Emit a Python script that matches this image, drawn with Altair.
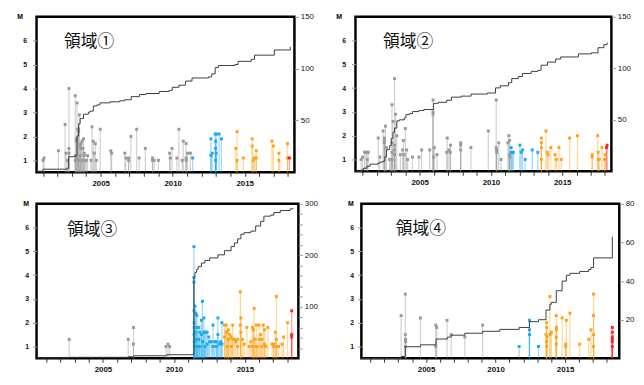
import altair as alt
import pandas as pd

# ---------------- data ----------------
P1_YEAR = [2001.0, 2001.07, 2002.07, 2002.53, 2002.6, 2002.69, 2002.8, 2002.8, 2002.8,
           2003.24, 2003.24, 2003.24, 2003.31, 2003.31, 2003.36, 2003.36, 2003.4, 2003.47,
           2003.47, 2003.47, 2003.52, 2003.58, 2003.58, 2003.63, 2003.63, 2003.7, 2003.7,
           2003.77, 2003.81, 2003.86, 2003.86, 2003.93, 2004.0, 2004.09, 2004.33, 2004.4,
           2004.49, 2004.55, 2004.63, 2004.7, 2004.97, 2005.7, 2005.76, 2006.68, 2006.75,
           2006.94, 2006.94, 2007.1, 2007.5, 2007.67, 2008.1, 2008.6, 2008.6, 2008.72,
           2009.01, 2009.79, 2009.83, 2009.95, 2010.29, 2010.43, 2010.66, 2010.73, 2010.93,
           2010.93, 2010.93, 2011.03, 2011.23, 2011.38, 2012.65, 2012.65, 2012.74, 2012.95,
           2012.98, 2012.98, 2012.98, 2013.02, 2013.02, 2013.22, 2013.38, 2014.38, 2014.47,
           2014.47, 2014.9, 2015.52, 2015.52, 2015.59, 2015.68, 2015.8, 2015.8, 2016.89,
           2016.99, 2017.37, 2017.37, 2017.97, 2017.97, 2018.1]
P1_MAG = [1.0, 1.1, 1.4, 2.5, 1.3, 1.0, 4.0, 1.5, 1.3,
          3.7, 1.2, 1.0, 1.9, 1.8, 3.4, 1.1, 2.3, 2.3,
          2.2, 1.0, 2.9, 1.6, 1.2, 1.7, 1.5, 1.8, 1.0,
          1.5, 1.9, 1.3, 1.2, 1.0, 1.0, 1.2, 1.0, 2.4,
          1.8, 1.3, 1.7, 1.0, 2.3, 1.4, 1.3, 1.3, 1.1,
          1.1, 1.0, 2.0, 2.3, 1.1, 1.5, 1.1, 1.0, 1.0,
          1.0, 1.3, 1.1, 1.5, 1.1, 2.3, 1.0, 1.8, 1.7,
          1.1, 1.0, 1.3, 1.3, 1.1, 1.9, 1.2, 1.3, 2.1,
          1.8, 1.5, 1.0, 2.1, 1.3, 2.1, 1.9, 1.5, 2.2,
          1.0, 1.1, 1.9, 1.6, 1.0, 1.1, 1.4, 1.1, 1.8,
          1.6, 1.3, 1.0, 1.7, 1.1, 1.1]
P1_CUM_YEAR = [2000.55, 2001.0, 2002.67, 2002.78, 2003.24, 2003.36, 2003.47, 2003.58, 2003.81,
               2004.15, 2004.27, 2004.49, 2004.73, 2004.95, 2005.64, 2006.32, 2006.66, 2007.12,
               2007.69, 2008.15, 2009.06, 2009.75, 2009.97, 2010.43, 2010.89, 2011.34, 2012.49,
               2012.71, 2012.95, 2013.17, 2014.32, 2014.54, 2015.45, 2015.68, 2016.82, 2017.05,
               2017.97, 2018.16]
P1_CUM = [1, 3, 4, 15, 16, 35, 47, 52, 56, 58, 59, 64, 65, 67, 68, 69, 70, 73, 75, 76, 78, 79,
          82, 84, 88, 91, 92, 95, 101, 103, 104, 107, 109, 113, 113, 118, 118, 121]

P2_YEAR = [2000.9, 2001.0, 2001.14, 2001.25, 2001.32, 2001.32, 2001.4, 2002.1, 2002.21,
           2002.44, 2002.6, 2002.53, 2002.53, 2002.53, 2002.67, 2002.9, 2002.95, 2003.06,
           2003.06, 2003.06, 2003.06, 2003.13, 2003.24, 2003.24, 2003.24, 2003.24, 2003.31,
           2003.4, 2003.65, 2003.86, 2003.81, 2003.9, 2004.0, 2004.09, 2004.16, 2004.5,
           2004.95, 2005.14, 2005.71, 2005.94, 2005.94, 2005.94, 2005.98, 2006.03, 2006.21,
           2006.9, 2006.94, 2007.05, 2007.15, 2007.17, 2007.88, 2007.88, 2007.88, 2008.6,
           2009.82, 2010.37, 2010.37, 2010.4, 2010.4, 2010.55, 2010.71, 2011.19, 2011.26,
           2011.3, 2011.3, 2011.33, 2011.42, 2011.42, 2011.53, 2011.57, 2012.03, 2012.12,
           2012.21, 2012.4, 2012.9, 2013.29, 2013.54, 2013.54, 2013.54, 2013.54, 2013.86,
           2013.95, 2014.02, 2014.2, 2014.5, 2014.59, 2014.77, 2014.93, 2015.52, 2016.07,
           2017.1, 2017.1, 2017.49, 2017.52, 2017.52, 2017.6, 2017.79, 2017.97, 2018.01,
           2018.1, 2018.15]
P2_MAG = [1.0, 1.1, 1.3, 1.3, 1.3, 1.0, 1.3, 1.9, 1.1,
          2.2, 2.4, 1.9, 1.8, 1.7, 1.5, 1.0, 1.0, 3.3,
          1.7, 1.3, 1.0, 2.6, 4.4, 1.6, 1.4, 1.2, 2.9,
          2.0, 1.2, 1.8, 1.4, 1.2, 2.3, 1.4, 1.0, 1.1,
          1.1, 1.4, 1.4, 3.5, 3.0, 2.9, 1.1, 1.5, 1.2,
          1.3, 1.9, 1.4, 1.3, 1.6, 1.7, 1.6, 1.4, 1.5,
          2.2, 3.5, 1.5, 1.4, 1.3, 1.7, 1.0, 1.7, 2.0,
          1.8, 1.2, 1.1, 1.5, 1.3, 1.3, 1.3, 1.6, 1.3,
          1.4, 1.0, 1.4, 1.3, 1.9, 1.7, 1.5, 1.0, 2.2,
          1.3, 1.2, 1.5, 1.2, 1.0, 1.5, 1.0, 1.9, 2.0,
          1.2, 1.1, 2.0, 1.3, 1.0, 1.0, 1.5, 1.0, 1.2,
          1.5, 1.6]
P2_CUM_YEAR = [2000.5, 2000.96, 2001.07, 2001.3, 2001.53, 2002.1, 2002.21, 2002.44, 2002.56,
               2002.67, 2002.9, 2003.01, 2003.13, 2003.24, 2003.4, 2003.58, 2003.93, 2004.04,
               2004.27, 2004.5, 2004.95, 2005.3, 2005.87, 2005.98, 2006.32, 2006.9, 2007.24,
               2007.92, 2008.61, 2009.75, 2010.32, 2010.66, 2011.23, 2011.46, 2011.92, 2012.21,
               2012.83, 2013.29, 2013.52, 2013.97, 2014.54, 2014.89, 2016.14, 2017.05, 2017.51,
               2017.92, 2018.15]
P2_CUM = [0, 2, 3, 5, 7, 8, 9, 10, 14, 21, 25, 32, 38, 42, 49, 50, 52, 55, 56, 58, 59, 60, 60,
          66, 67, 69, 72, 73, 75, 76, 81, 83, 86, 90, 92, 95, 97, 98, 103, 106, 109, 111, 114,
          115, 120, 123, 125]

P3_YEAR = [2002.62, 2006.78, 2007.15, 2007.15, 2009.44, 2009.58, 2009.7,
           2011.41, 2011.41, 2011.41, 2011.42, 2011.42, 2011.42, 2011.43, 2011.43, 2011.44,
           2011.48, 2011.48, 2011.55, 2011.55, 2011.62, 2011.62, 2011.67, 2011.67, 2011.76,
           2011.76, 2011.83, 2011.83, 2011.94, 2011.94, 2012.01, 2012.01, 2012.11, 2012.11,
           2012.18, 2012.18, 2012.25, 2012.34, 2012.34, 2012.45, 2012.52, 2012.64, 2012.75,
           2012.75, 2012.87, 2012.99, 2012.99, 2013.1, 2013.1, 2013.19, 2013.29, 2013.38,
           2013.38,
           2013.56, 2013.56, 2013.68, 2013.68, 2013.75, 2013.75, 2013.84, 2013.84, 2013.94,
           2014.03, 2014.03, 2014.14, 2014.14, 2014.26, 2014.35, 2014.49, 2014.49, 2014.68,
           2014.68, 2014.72, 2014.72, 2014.84, 2014.95, 2015.14, 2015.3, 2015.42, 2015.53,
           2015.53, 2015.6, 2015.65, 2015.65, 2015.72, 2015.81, 2015.81, 2015.88, 2016.0,
           2016.0, 2016.11, 2016.2, 2016.2, 2016.3, 2016.39, 2016.39, 2016.48, 2016.62,
           2016.92, 2017.04, 2017.04, 2017.15, 2017.22, 2017.22, 2017.27, 2017.38, 2017.62,
           2017.73, 2018.01, 2018.3, 2018.3, 2018.3]
P3_MAG = [1.3, 1.3, 1.8, 1.1, 1.0, 1.1, 1.0,
          5.2, 3.9, 3.7, 2.5, 2.0, 1.5, 1.2, 1.8, 1.0,
          2.7, 1.6, 2.4, 1.3, 2.3, 1.8, 1.8, 1.0, 1.8,
          1.3, 1.6, 1.0, 2.1, 1.5, 2.9, 1.2, 2.2, 1.6,
          1.6, 1.0, 1.6, 1.6, 1.1, 1.4, 1.2, 1.2, 1.9,
          1.0, 1.2, 1.2, 1.0, 2.2, 1.5, 1.1, 1.2, 2.0,
          1.1,
          1.9, 1.4, 1.9, 1.6, 1.6, 1.0, 1.7, 1.3, 1.5,
          1.4, 1.0, 1.9, 1.3, 1.3, 1.2, 1.3, 1.0, 3.3,
          1.9, 2.2, 1.6, 1.3, 1.1, 1.8, 1.0, 1.2, 1.8,
          1.0, 1.7, 2.6, 1.3, 1.3, 1.9, 1.0, 1.0, 1.9,
          1.3, 1.5, 1.3, 1.0, 1.9, 1.7, 1.1, 1.0, 1.8,
          1.1, 1.1, 1.0, 1.6, 3.1, 1.3, 1.0, 1.0, 1.1,
          1.4, 2.0, 2.5, 1.5, 1.4]
P3_CUM_YEAR = [2000.32, 2002.62, 2006.78, 2007.15, 2009.5, 2011.37, 2011.41, 2011.48, 2011.6,
               2011.71, 2011.94, 2012.18, 2012.52, 2013.1, 2013.56, 2014.03, 2014.26, 2014.49,
               2014.72, 2014.95, 2015.42, 2015.76, 2016.11, 2016.34, 2016.81, 2017.04, 2017.5,
               2018.19, 2018.38]
P3_CUM = [1, 2, 3, 5, 7, 9, 158, 167, 173, 178, 185, 190, 195, 201, 209, 217, 224, 232, 241,
          244, 247, 257, 266, 276, 278, 283, 287, 290, 292]

P4_YEAR = [2003.21, 2003.51, 2003.51, 2003.53, 2003.53, 2003.51, 2004.6, 2005.7, 2005.77,
           2005.7, 2006.51, 2006.81, 2007.79, 2009.07,
           2011.7, 2012.44, 2012.44, 2012.44, 2013.09,
           2013.63, 2013.67, 2013.67, 2013.67, 2013.67, 2013.7, 2013.91, 2013.91, 2014.02,
           2014.37, 2014.37, 2014.37, 2014.37, 2014.37, 2014.79, 2015.05, 2015.05, 2015.09,
           2015.35, 2016.05, 2016.7, 2016.86, 2017.05, 2017.05, 2017.05, 2017.05,
           2018.4, 2018.4, 2018.4, 2018.4, 2018.4, 2018.4]
P4_MAG = [2.3, 3.2, 1.5, 1.3, 1.2, 1.0, 2.2, 1.9, 1.8,
          1.0, 2.1, 1.5, 1.4, 1.9,
          1.0, 2.1, 1.7, 1.5, 1.0,
          1.5, 2.0, 1.8, 1.2, 1.0, 1.4, 3.1, 1.5, 1.6,
          2.3, 1.8, 1.7, 1.4, 1.1, 2.2, 1.1, 1.0, 2.1,
          2.4, 1.1, 1.3, 1.7, 3.2, 2.3, 1.5, 1.0,
          1.8, 1.6, 1.4, 1.3, 1.2, 1.0]
P4_CUM_YEAR = [2000.35, 2003.21, 2003.51, 2004.6, 2005.72, 2006.53, 2006.81, 2007.79, 2009.07,
               2010.3, 2011.7, 2012.44, 2013.09, 2013.63, 2013.91, 2014.02, 2014.37, 2014.79,
               2015.09, 2015.35, 2016.05, 2016.7, 2016.86, 2017.05, 2018.4]
P4_CUM = [0, 1, 6, 7, 10, 11, 12, 13, 14, 15, 16, 19, 20, 25, 28, 29, 35, 40, 43, 44, 45, 46,
          47, 52, 63]

TITLES = ["領域①", "領域②", "領域③", "領域④"]
YEAR_TICKS = list(range(2001, 2019))
M_TICKS = [1, 2, 3, 4, 5, 6]

# period boundaries (colour classes)
BLUE_FROM, ORANGE_FROM, RED_FROM = 2011.36, 2013.45, 2018.04
PERIODS = ["g", "b", "o", "r"]
COLORS = ["#9a9a9a", "#1ea9ee", "#ffa21a", "#ff2424"]

LABEL_FONT = "Liberation Sans"
M_MIN, M_MAX = 0.5, 7.0


def period(y):
    if y >= RED_FROM:
        return "r"
    if y >= ORANGE_FROM:
        return "o"
    if y >= BLUE_FROM:
        return "b"
    return "g"


def panel(years, mags, cyears, cums, title, xdom, rdom, rvals, rlabel_step,
          width, height, title_x, label_pad, text_x, text_y):
    ev = pd.DataFrame({"year": years, "M": mags})
    ev["base"] = M_MIN
    ev["period"] = [period(y) for y in years]
    cum = pd.DataFrame({"year": cyears, "count": cums})
    tdf = pd.DataFrame({"t": [title]})

    xscale = alt.Scale(domain=xdom, nice=False, zero=False)
    xaxis = alt.Axis(values=YEAR_TICKS, format="d",
                     labelExpr="datum.value % 5 == 0 ? datum.label : ''",
                     labelOverlap=False, labelFlush=False, title=None,
                     domain=False, grid=False, tickColor="#333333", tickSize=4,
                     labelPadding=3, labelFont=LABEL_FONT, labelFontSize=8,
                     labelFontWeight="bold", labelColor="#111111")
    yscale = alt.Scale(domain=[M_MIN, M_MAX], nice=False, zero=False)
    yaxis = alt.Axis(values=M_TICKS, format="d", title="M", titleAngle=0,
                     titleX=title_x, titleY=0, titleAlign="left",
                     titleBaseline="middle", titleFont=LABEL_FONT, titleFontSize=7,
                     titleFontWeight="bold", domain=False, grid=False,
                     tickColor="#9a9a9a", tickSize=4, labelPadding=label_pad,
                     labelFont=LABEL_FONT, labelFontSize=7, labelFontWeight="bold",
                     labelColor="#111111")
    color = alt.Color("period:N", scale=alt.Scale(domain=PERIODS, range=COLORS),
                      legend=None)

    stems = alt.Chart(ev).mark_rule(strokeWidth=1.2, opacity=0.45).encode(
        x=alt.X("year:Q", scale=xscale, axis=xaxis),
        y=alt.Y("M:Q", scale=yscale, axis=yaxis),
        y2="base:Q",
        color=color,
    )
    dots = alt.Chart(ev).mark_square(size=9, opacity=1).encode(
        x=alt.X("year:Q", scale=xscale, axis=xaxis),
        y=alt.Y("M:Q", scale=yscale, axis=yaxis),
        color=color,
    )
    label = alt.Chart(tdf).mark_text(
        align="left", baseline="middle", font="Noto Sans CJK JP", fontSize=17,
        color="#111111"
    ).encode(x=alt.value(text_x), y=alt.value(text_y), text="t:N")
    left = alt.layer(stems, dots, label)

    raxis = alt.Axis(orient="right", values=rvals, title=None, domain=False,
                     grid=False, tickColor="#9a9a9a", tickSize=4, labelPadding=2,
                     labelExpr=f"datum.value % {rlabel_step} == 0 ? datum.value : ''",
                     labelOverlap=False, labelFont=LABEL_FONT, labelFontSize=8,
                     labelColor="#111111")
    line = alt.Chart(cum).mark_line(interpolate="step-after", color="#3c3c3c",
                                    strokeWidth=1).encode(
        x=alt.X("year:Q", scale=xscale, axis=xaxis),
        y=alt.Y("count:Q", scale=alt.Scale(domain=rdom, nice=False), axis=raxis),
    )
    return alt.layer(left, line).resolve_scale(y="independent").properties(
        width=width, height=height)


p1 = panel(P1_YEAR, P1_MAG, P1_CUM_YEAR, P1_CUM, TITLES[0], [2000.55, 2018.45],
           [0, 150], [50, 100, 150], 50, 262, 158, -20, 6, 28, 26)
p2 = panel(P2_YEAR, P2_MAG, P2_CUM_YEAR, P2_CUM, TITLES[1], [2000.5, 2018.45],
           [0, 150], [50, 100, 150], 50, 260, 157, -20, 6, 28, 26)
p3 = panel(P3_YEAR, P3_MAG, P3_CUM_YEAR, P3_CUM, TITLES[2], [2000.32, 2018.77],
           [0, 300], list(range(20, 301, 20)), 100, 266, 157, -14, 4, 31, 27)
p4 = panel(P4_YEAR, P4_MAG, P4_CUM_YEAR, P4_CUM, TITLES[3], [2000.35, 2018.9],
           [0, 80], [20, 40, 60, 80], 20, 262, 157, -14, 4, 35, 26)

row1 = alt.hconcat(p1, p2, spacing=19)
row2 = alt.hconcat(p3, p4, spacing=27)
chart = alt.vconcat(row1, row2, spacing=9).properties(
    padding={"left": 7, "top": 0, "right": 0, "bottom": -2}
).configure_view(stroke="#000000", strokeWidth=2.5)

chart.save("out.html", embed_options={"renderer": "svg", "actions": False})
